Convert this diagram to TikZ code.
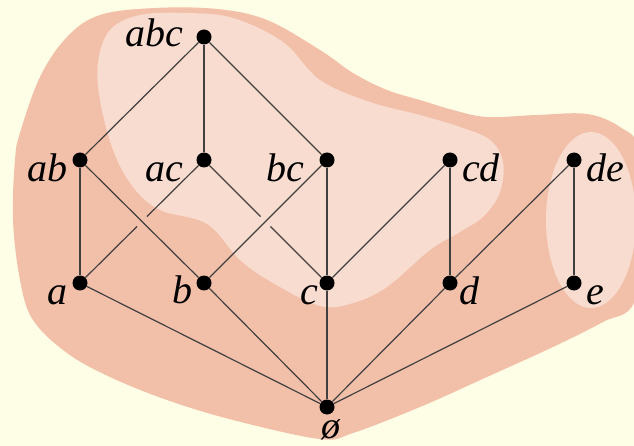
\documentclass[tikz,border=0pt]{standalone}
\usepackage{fontspec}
\setmainfont{Liberation Serif}
\usetikzlibrary{calc}
\definecolor{bgcol}{HTML}{FEFEE6}
\definecolor{outercol}{HTML}{F2BFA9}
\definecolor{innercol}{HTML}{F8DCCF}
\definecolor{edgecol}{HTML}{404040}
\tikzset{
  dot/.style={circle,fill=black,inner sep=0pt,minimum size=15pt},
  lbl/.style={inner sep=0pt,font=\itshape\fontsize{40}{42}\selectfont},
  edge/.style={draw=edgecol,line width=1.2pt}
}
\begin{document}
\begin{tikzpicture}[x=1pt,y=-1pt]
\useasboundingbox (0,0) rectangle (634,446);
\fill[bgcol] (0,0) rectangle (634,446);
\begin{scope}
\clip (0,0) rectangle (634,446);
% outer blob
\fill[outercol] plot[smooth cycle,tension=0.6] coordinates {
 (100,15) (155,8) (217,9) (267,20) (320,50) (353,73) (387,90) (420,100)
 (453,110) (487,117) (537,115) (587,114) (620,127) (640,150) (650,230)
 (634,303) (603,322) (553,347) (487,377) (420,407) (353,433) (320,439)
 (233,420) (167,400) (110,377) (67,353) (33,320) (20,280) (13,220)
 (15,160) (20,133) (40,77) (67,37)};
% inner blob
\fill[innercol] plot[smooth cycle,tension=0.6] coordinates {
 (110,30) (140,15) (187,13) (233,18) (283,42) (320,80) (370,102) (420,115)
 (460,127) (490,140) (503,162) (500,192) (484,216) (460,232) (430,250)
 (387,287) (353,303) (320,306) (273,283) (240,260) (207,224) (160,210)
 (133,187) (113,150) (100,100) (98,62)};
% de blob
\fill[innercol] (591,220) ellipse [x radius=45,y radius=88];
\end{scope}
% nodes
\node[dot] (abc) at (204,37) {};
\node[dot] (ab) at (80,160) {};
\node[dot] (ac) at (204,160) {};
\node[dot] (bc) at (327,160) {};
\node[dot] (cd) at (450,160) {};
\node[dot] (de) at (574,160) {};
\node[dot] (a) at (80,283) {};
\node[dot] (b) at (204,283) {};
\node[dot] (c) at (327,283) {};
\node[dot] (d) at (450,283) {};
\node[dot] (e) at (574,283) {};
\node[dot] (empty) at (327,407) {};
% labels
\node[lbl,anchor=base east] (labc) at (183,47) {abc};
\node[lbl,anchor=base east] (lab) at (68,182) {ab};
\node[lbl,anchor=base east] (lac) at (183,182) {ac};
\node[lbl,anchor=base east] (lbc) at (304,182) {bc};
\node[lbl,anchor=base west] (lcd) at (462,182) {cd};
\node[lbl,anchor=base west] (lde) at (586,182) {de};
\node[lbl,anchor=base east] (la) at (68,304) {a};
\node[lbl,anchor=base east] (lb) at (193,303) {b};
\node[lbl,anchor=base east] (lc) at (318,304) {c};
\node[lbl,anchor=base west] (ld) at (459,304) {d};
\node[lbl,anchor=base west] (le) at (586,304) {e};
\node[lbl,anchor=base,font=\itshape\fontsize{38}{40}\selectfont] (lempty) at (331,438) {ø};
% edges
\draw[edge] (abc) -- (ab);
\draw[edge] (abc) -- (ac);
\draw[edge] (abc) -- (bc);
\draw[edge] (ab) -- (a);
\draw[edge] (ab) -- (b);
\draw[edge] (ac) -- ($(ac)!0.46!(a)$);
\draw[edge] ($(ac)!0.54!(a)$) -- (a);
\draw[edge] (ac) -- ($(ac)!0.46!(c)$);
\draw[edge] ($(ac)!0.54!(c)$) -- (c);
\draw[edge] (bc) -- (b);
\draw[edge] (bc) -- (c);
\draw[edge] (cd) -- (c);
\draw[edge] (cd) -- (d);
\draw[edge] (de) -- (d);
\draw[edge] (de) -- (e);
\draw[edge] (empty) -- (a);
\draw[edge] (empty) -- (b);
\draw[edge] (empty) -- (c);
\draw[edge] (empty) -- (d);
\draw[edge] (empty) -- (e);
\end{tikzpicture}
\end{document}
